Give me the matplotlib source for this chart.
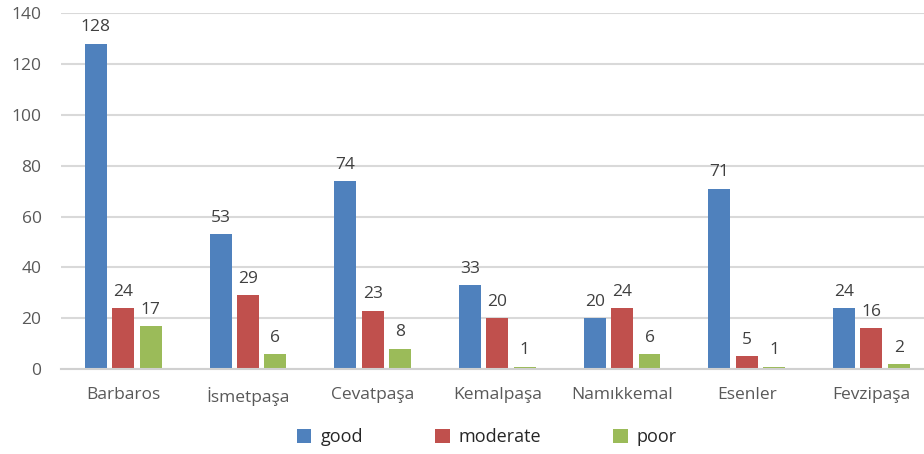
import matplotlib.pyplot as plt
import numpy as np

plt.rcParams['font.family'] = ['Open Sans', 'DejaVu Sans']

districts = ["Barbaros", "İsmetpaşa", "Cevatpaşa", "Kemalpaşa",
             "Namıkkemal", "Esenler", "Fevzipaşa"]
good = [128, 53, 74, 33, 20, 71, 24]
moderate = [24, 29, 23, 20, 24, 5, 16]
poor = [17, 6, 8, 1, 6, 1, 2]

series = [("good", good, "#4F81BD"),
          ("moderate", moderate, "#C0504D"),
          ("poor", poor, "#9BBB59")]

fig = plt.figure(figsize=(9.24, 4.54), dpi=100)
# plot area runs a little past the right edge of the figure
ax = fig.add_axes([0.066, 0.187, 0.9446, 0.784])

x = np.arange(len(districts))
width = 0.176
step = 0.22
for i, (name, vals, color) in enumerate(series):
    pos = x + (i - 1) * step
    bars = ax.bar(pos, vals, width, color=color, label=name, zorder=2)
    for b, v in zip(bars, vals):
        ax.annotate(str(v), (b.get_x() + b.get_width() / 2, v),
                    xytext=(0, 6), textcoords="offset points",
                    ha="center", va="bottom", fontsize=12.5, color="#404040")

ax.set_xlim(-0.5, len(districts) - 0.5)
ax.set_ylim(0, 140)
ax.set_yticks(range(0, 141, 20))
ax.set_xticks(x)
ax.set_xticklabels(districts)
ax.grid(axis="y", color="#D9D9D9", linewidth=1.5, zorder=0)
ax.set_axisbelow(True)
for s in ["top", "right", "left"]:
    ax.spines[s].set_visible(False)
ax.spines["bottom"].set_color("#D0D0D0")
ax.spines["bottom"].set_linewidth(1.5)
ax.tick_params(axis="both", length=0, labelsize=12.5, labelcolor="#595959")
ax.tick_params(axis="x", pad=13)
ax.tick_params(axis="y", pad=14)

leg = fig.legend(loc="center", bbox_to_anchor=(0.527, 0.037), ncol=3,
                 frameon=False, fontsize=13, handlelength=0.8,
                 handleheight=0.8, handletextpad=0.5, columnspacing=4.0)
for t in leg.get_texts():
    t.set_color("#262626")

fig.savefig("out.png", dpi=100)
